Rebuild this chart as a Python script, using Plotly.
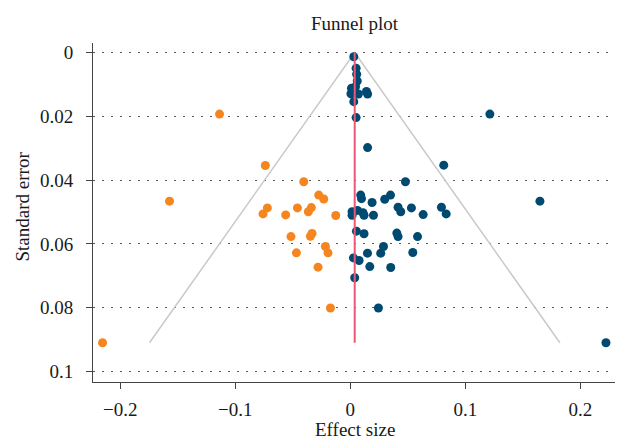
import plotly.graph_objects as go

# Observed studies (blue)
observed_effect = [0.003, 0.005, 0.0055, 0.006, 0.0045, 0.001, 0.0005, 0.007, 0.014, 0.015,
                   0.003, 0.005, 0.015,
                   0.0479, 0.009, 0.0097, 0.0189, 0.0299, 0.0349, 0.0015, 0.0015, 0.0062, 0.011,
                   0.0119, 0.0201, 0.0415, 0.0438, 0.0531, 0.0633, 0.0792, 0.0833, 0.0053, 0.0119,
                   0.0404, 0.0415, 0.0584, 0.0288, 0.0264, 0.0149, 0.0543, 0.0027, 0.0076, 0.0169,
                   0.0351, 0.0038, 0.0244, 0.0812, 0.1213, 0.1648, 0.2222]
observed_se = [0.0013, 0.0049, 0.0068, 0.0089, 0.0107, 0.0112, 0.0129, 0.013, 0.0122, 0.013,
               0.0154, 0.0204, 0.0298,
               0.0405, 0.0447, 0.0458, 0.047, 0.046, 0.0447, 0.0499, 0.051, 0.0495, 0.0502,
               0.051, 0.051, 0.0485, 0.0499, 0.0487, 0.0508, 0.0485, 0.0506, 0.056, 0.0568,
               0.0566, 0.0577, 0.0577, 0.0608, 0.0629, 0.0629, 0.0627, 0.0644, 0.0652, 0.0671,
               0.0674, 0.0706, 0.0801, 0.0353, 0.0193, 0.0466, 0.091]

# Imputed studies (orange)
imputed_effect = [-0.0405, -0.0275, -0.0231, -0.0721, -0.0759, -0.0562, -0.046, -0.0339, -0.0365,
                  -0.0127, -0.0516, -0.0333, -0.0347, -0.0469, -0.0217, -0.0194, -0.0281, -0.0173,
                  -0.0739, -0.1137, -0.1572, -0.2154]
imputed_se = [0.0405, 0.0447, 0.0459, 0.0487, 0.0506, 0.0509, 0.0487, 0.0486, 0.0499,
              0.0511, 0.0577, 0.0567, 0.0576, 0.0628, 0.0608, 0.0628, 0.0673, 0.0801,
              0.0354, 0.0193, 0.0466, 0.091]

pooled_effect = 0.0038
max_se = 0.091
z95 = 1.96

y_ticks = [0, 0.02, 0.04, 0.06, 0.08, 0.1]
y_tick_labels = ["0", "0.02", "0.04", "0.06", "0.08", "0.1"]
x_ticks = [-0.2, -0.1, 0, 0.1, 0.2]
x_tick_labels = ["\u22120.2", "\u22120.1", "0", "0.1", "0.2"]

BLUE = "#004a72"
ORANGE = "#f5861f"
RED = "#ec5777"
GRAY = "#c9c9c9"
FONT = "Liberation Serif"
TXT = "#1a1a1a"

# The page body has an 8px default margin; the figure is sized/offset to compensate.
W, H = 615, 440
L, R, T, B = 85, 6, 35, 66
PH = H - T - B

fig = go.Figure()

fig.add_trace(go.Scatter(
    x=[pooled_effect - z95 * max_se, pooled_effect, pooled_effect + z95 * max_se],
    y=[max_se, 0, max_se],
    mode="lines", line=dict(color=GRAY, width=1.5), hoverinfo="skip", showlegend=False))

fig.add_trace(go.Scatter(
    x=observed_effect, y=observed_se, mode="markers",
    marker=dict(color=BLUE, size=9, line=dict(width=0)), showlegend=False))

fig.add_trace(go.Scatter(
    x=imputed_effect, y=imputed_se, mode="markers",
    marker=dict(color=ORANGE, size=9, line=dict(width=0)), showlegend=False))

fig.add_trace(go.Scatter(
    x=[pooled_effect, pooled_effect], y=[0, max_se],
    mode="lines", line=dict(color=RED, width=2), hoverinfo="skip", showlegend=False))

fig.update_layout(
    width=W, height=H,
    margin=dict(l=L, r=R, t=T, b=B, autoexpand=False),
    paper_bgcolor="white", plot_bgcolor="white",
    font=dict(family=FONT, size=19, color=TXT),
    xaxis=dict(range=[-0.2237, 0.2318], tickvals=x_ticks, ticktext=x_tick_labels,
               showgrid=False, zeroline=False, showline=True, linecolor="#444", linewidth=1,
               ticks="outside", ticklen=6, tickcolor="#444", automargin=False,
               ticklabelstandoff=4, tickfont=dict(size=19)),
    yaxis=dict(range=[0.1033, -0.003], tickvals=y_ticks, ticktext=y_tick_labels,
               showgrid=True, gridcolor="#555", gridwidth=1, griddash="2px,7px",
               zeroline=False, showline=True, linecolor="#444", linewidth=1,
               ticks="outside", ticklen=6, tickcolor="#444", automargin=False,
               ticklabelstandoff=9, tickfont=dict(size=19)),
    annotations=[
        dict(text="Funnel plot", xref="paper", yref="paper", x=0.5, y=1 + (35 - 15) / PH,
             xanchor="center", yanchor="middle", showarrow=False, font=dict(size=19)),
        dict(text="Effect size", xref="paper", yref="paper", x=0.5, y=-(421 - 374) / PH,
             xanchor="center", yanchor="middle", showarrow=False, font=dict(size=19)),
        dict(text="Standard error", xref="paper", yref="paper", x=(14 - L) / (W - L - R),
             y=1 - (198.5 - T) / PH, xanchor="center", yanchor="middle",
             textangle=-90, showarrow=False, font=dict(size=19)),
    ],
)

fig.write_html("out.html")
